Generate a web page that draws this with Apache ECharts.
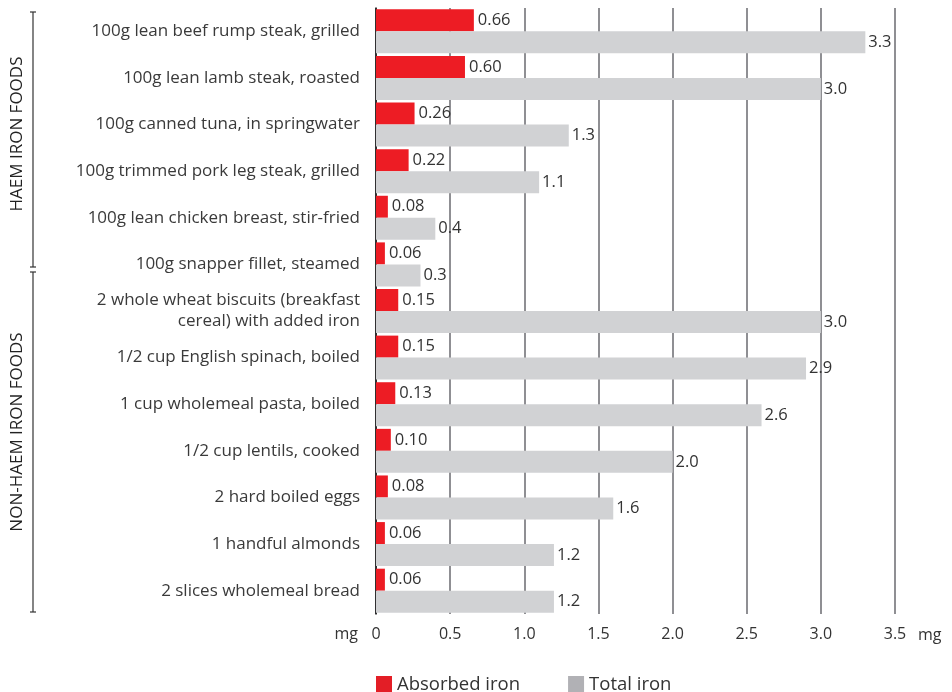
<!DOCTYPE html>
<html>
<head>
<meta charset="utf-8">
<script src="https://cdn.jsdelivr.net/npm/echarts@6/dist/echarts.min.js"></script>
<style>
html,body{margin:0;padding:0;background:#fff;}
#chart{width:952px;height:692px;}
</style>
</head>
<body>
<div id="chart"></div>
<script>
const categories = [
  "100g lean beef rump steak, grilled",
  "100g lean lamb steak, roasted",
  "100g canned tuna, in springwater",
  "100g trimmed pork leg steak, grilled",
  "100g lean chicken breast, stir-fried",
  "100g snapper fillet, steamed",
  "2 whole wheat biscuits (breakfast\ncereal) with added iron",
  "1/2 cup English spinach, boiled",
  "1 cup wholemeal pasta, boiled",
  "1/2 cup lentils, cooked",
  "2 hard boiled eggs",
  "1 handful almonds",
  "2 slices wholemeal bread"
];
const absorbedIron = [0.66, 0.60, 0.26, 0.22, 0.08, 0.06, 0.15, 0.15, 0.13, 0.10, 0.08, 0.06, 0.06];
const totalIron = [3.3, 3.0, 1.3, 1.1, 0.4, 0.3, 3.0, 2.9, 2.6, 2.0, 1.6, 1.2, 1.2];
const groupLabels = ["HAEM IRON FOODS", "NON-HAEM IRON FOODS"];
const axisUnit = "mg";

const FONT = "'Open Sans', 'Noto Sans', sans-serif";
const chart = echarts.init(document.getElementById('chart'));

const bracket = (x, y1, y2) => ([
  {type:'line', shape:{x1:x, y1:y1, x2:x, y2:y2}, style:{stroke:'#333', lineWidth:1.2}},
  {type:'line', shape:{x1:x-3, y1:y1, x2:x+3, y2:y1}, style:{stroke:'#333', lineWidth:1.2}},
  {type:'line', shape:{x1:x-3, y1:y2, x2:x+3, y2:y2}, style:{stroke:'#333', lineWidth:1.2}}
]);

chart.setOption({
  animation: false,
  textStyle: {fontFamily: FONT},
  grid: {left: 376, right: 57, top: 8, bottom: 78, containLabel: false},
  legend: {
    left: 376, top: 675, itemWidth: 16, itemHeight: 17, itemGap: 48, padding: 0,
    icon: 'rect',
    textStyle: {fontSize: 18.5, color: '#333', fontFamily: FONT},
    data: [
      {name: 'Absorbed iron', itemStyle: {color: '#E31E26'}},
      {name: 'Total iron', itemStyle: {color: '#B1B1B5'}}
    ]
  },
  xAxis: {
    type: 'value', min: 0, max: 3.5, interval: 0.5,
    axisLine: {show: false}, axisTick: {show: false},
    splitLine: {show: true, lineStyle: {color: '#8f8f93', width: 2}},
    axisLabel: {
      fontSize: 16, color: '#333', margin: 12,
      formatter: v => v === 0 ? '0' : v.toFixed(1)
    }
  },
  yAxis: {
    type: 'category', data: categories, inverse: true,
    axisLine: {show: true, lineStyle: {color: '#111', width: 1.5}},
    axisTick: {show: false},
    axisLabel: {fontSize: 17, color: '#3a3a3a', margin: 16, lineHeight: 21, align: 'right', padding: [3, 0, 0, 0]}
  },
  series: [
    {
      name: 'Absorbed iron', type: 'bar', data: absorbedIron,
      barWidth: 22, barGap: '0%',
      itemStyle: {color: '#ED1C24'},
      label: {show: true, position: 'right', distance: 4, fontSize: 16.5, color: '#333',
        formatter: p => p.value.toFixed(2)}
    },
    {
      name: 'Total iron', type: 'bar', data: totalIron,
      barWidth: 22,
      itemStyle: {color: '#D1D2D4'},
      label: {show: true, position: 'right', distance: 3, fontSize: 16.5, color: '#333',
        formatter: p => p.value.toFixed(1)}
    }
  ],
  graphic: [
    ...bracket(33, 12, 267),
    ...bracket(33, 272, 612),
    {type:'text', x:17, y:134, rotation: Math.PI/2,
      style:{text: groupLabels[0], font: '17px ' + FONT, fill:'#222', align:'center', verticalAlign:'middle'}},
    {type:'text', x:17, y:432, rotation: Math.PI/2,
      style:{text: groupLabels[1], font: '17px ' + FONT, fill:'#222', align:'center', verticalAlign:'middle'}},
    {type:'text', x:358, y:634,
      style:{text: axisUnit, font: '16px ' + FONT, fill:'#333', align:'right', verticalAlign:'middle'}},
    {type:'text', x:918, y:635,
      style:{text: axisUnit, font: '16px ' + FONT, fill:'#333', align:'left', verticalAlign:'middle'}}
  ]
});
</script>
</body>
</html>
